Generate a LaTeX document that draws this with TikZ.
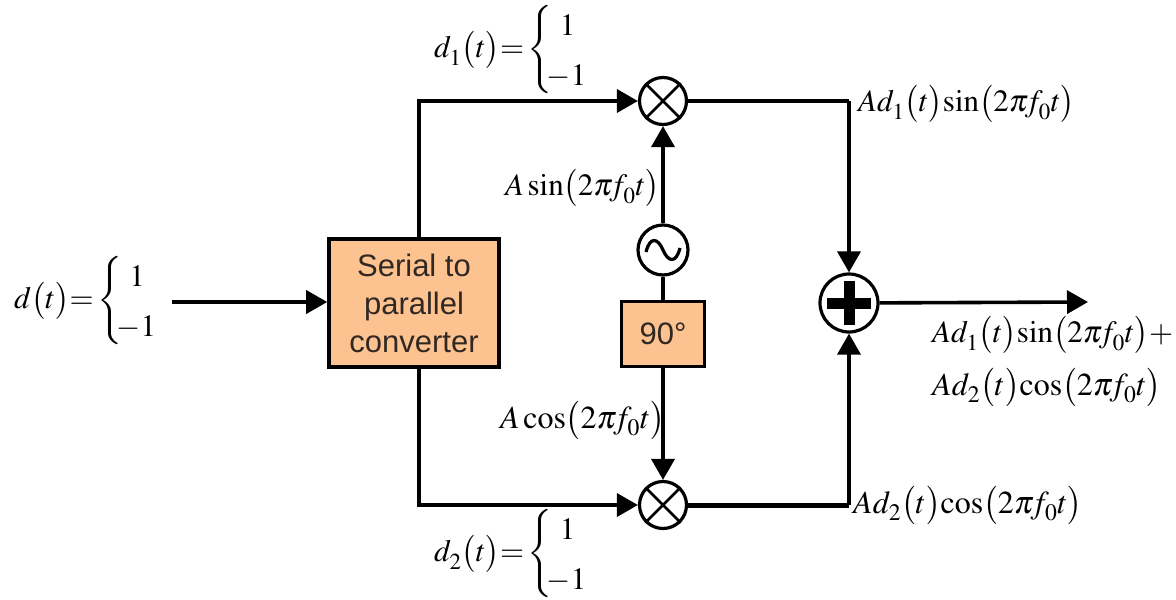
\documentclass[tikz,border=0pt]{standalone}
\usepackage{amsmath}
\usepackage{graphicx}
\usepackage{mathptmx}
\usepackage{fontspec}
\setsansfont{Liberation Sans}
\usepackage{color}
\usetikzlibrary{arrows.meta}
\definecolor{boxfill}{RGB}{252,194,144}
\definecolor{boxtext}{RGB}{50,40,35}

\newcommand{\prn}[1]{\bigl(#1\bigr)}
\newcommand{\lowsub}[1]{_{\lower3pt\hbox{$\scriptstyle #1$}}}
\newcommand{\twolevel}{\mkern2mu\vcenter{\hbox{\scalebox{1}[0.95]{$\left\{\rule[-37pt]{0pt}{74pt}\right.$}}}\mkern-4mu\smash{\def\arraystretch{1.25}\begin{array}{@{}l@{}}\hspace{13pt}1\\-1\end{array}}}

\tikzset{
  blockbox/.style={draw,line width=3.6pt,fill=boxfill,text=boxtext,font=\sffamily\fontsize{31}{38}\selectfont,align=center,inner sep=0pt},
  roundnode/.style={draw,circle,line width=3.2pt,fill=white,inner sep=0pt},
  mathlabel/.style={font=\fontsize{31}{40}\selectfont,inner sep=0pt},
  coslabel/.style={font=\fontsize{32}{40}\selectfont,inner sep=0pt},
  wire/.style={line width=3.6pt},
  bigwire/.style={line width=5pt}
}

\begin{document}
\begin{tikzpicture}[x=1pt,y=-1pt,>={Triangle[length=21pt,width=23pt]}]

\useasboundingbox (0,0) rectangle (1176,600);

\node[blockbox,minimum width=170,minimum height=128] (conv) at (414,303) {Serial to\\parallel\\converter};
\node[blockbox,minimum width=83,minimum height=65] (phase) at (663,334) {90\textdegree};

\node[roundnode,minimum size=47] (mixa) at (663,101) {};
\node[roundnode,minimum size=47] (mixb) at (663,505) {};
\node[roundnode,minimum size=50] (osc) at (663,250) {};
\node[roundnode,minimum size=58] (sum) at (849,303) {};

\draw[line width=2.6pt] (mixa.45)--(mixa.225) (mixa.135)--(mixa.315);
\draw[line width=2.6pt] (mixb.45)--(mixb.225) (mixb.135)--(mixb.315);
\draw[line width=3.2pt] (646,252) .. controls (650,236) and (658,238) .. (663,250)
  .. controls (668,262) and (676,264) .. (680,248);
\draw[line width=11pt] (827,303)--(871,303) (849,281)--(849,325);

\coordinate (inp) at (172,302);
\coordinate (outp) at (1088,302);
\coordinate (topl) at (419,101);
\coordinate (botl) at (419,505);
\coordinate (topr) at (849,101);
\coordinate (botr) at (849,505);

\draw[wire,->] (inp)--(conv.west|-inp);
\draw[wire,->] (conv.north-|topl)--(topl)--(mixa.west);
\draw[wire,->] (conv.south-|botl)--(botl)--(mixb.west);
\draw[wire,->] (osc)--(mixa);
\draw[wire] (osc)--(phase);
\draw[wire,->] (phase)--(mixb);
\draw[wire] (mixa)--(topr);
\draw[wire,->] (topr)--(sum);
\draw[bigwire] (mixb)--(botr);
\draw[wire,->] (botr)--(sum);
\draw[wire,->] (sum)--(outp);

\node[mathlabel,anchor=west] (din) at (14,301) {$d\prn{t}{=}\twolevel$};
\node[mathlabel,anchor=west] (done) at (434,50) {$d\lowsub{1}\prn{t}{=}\twolevel$};
\node[mathlabel,anchor=west] (dtwo) at (434,554) {$d\lowsub{2}\prn{t}{=}\twolevel$};
\node[mathlabel,anchor=west] (sinosc) at (505,188) {$A\sin\prn{2\pi\!f\lowsub{0}t}$};
\node[coslabel,anchor=west] (cososc) at (500,420) {$A\cos\prn{2\pi\!f\lowsub{0}t}$};
\node[mathlabel,anchor=west] (sinout) at (858,104) {$Ad\lowsub{1}\prn{t}\!\sin\prn{2\pi\!f\lowsub{0}t}$};
\node[coslabel,anchor=west] (cosout) at (853,505) {$Ad\lowsub{2}\prn{t}\!\cos\prn{2\pi\!f\lowsub{0}t}$};
\node[mathlabel,anchor=west] (sumone) at (932,335) {$Ad\lowsub{1}\prn{t}\!\sin\prn{2\pi\!f\lowsub{0}t}{+}$};
\node[coslabel,anchor=west] (sumtwo) at (932,387) {$Ad\lowsub{2}\prn{t}\!\cos\prn{2\pi\!f\lowsub{0}t}$};

\end{tikzpicture}
\end{document}
